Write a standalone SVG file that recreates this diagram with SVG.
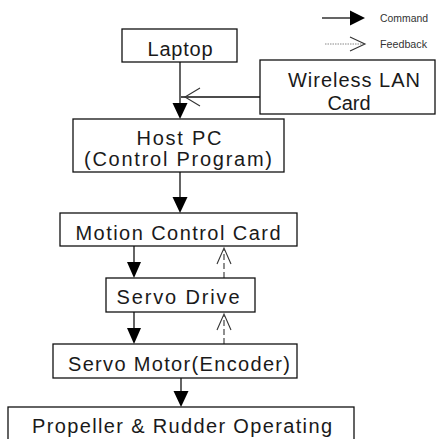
<svg xmlns="http://www.w3.org/2000/svg" width="437" height="439" viewBox="0 0 437 439" xml:space="preserve">
  <style>
    .box { fill: #ffffff; stroke: #111111; stroke-width: 1.3; }
    .lbl { font-family: "Liberation Sans", Arial, sans-serif; font-size: 20px; fill: #1a1a1a; text-anchor: middle; }
    .leg { font-family: "Liberation Sans", Arial, sans-serif; font-size: 10px; fill: #333333; }
    .cmd { stroke: #111111; stroke-width: 1.3; fill: none; }
    .fb { stroke: #333333; stroke-width: 1.1; fill: none; stroke-dasharray: 6 3; }
    .head { fill: #000000; stroke: none; }
    .open { fill: none; stroke: #333333; stroke-width: 1.1; }
  </style>
  <rect width="437" height="439" fill="#ffffff"/>

  <!-- legend -->
  <g id="legend">
    <line x1="322" y1="18" x2="351" y2="18" class="cmd"/>
    <polygon points="350,10.5 365,18 350,25.5" class="head"/>
    <text x="380" y="22" class="leg" textLength="48" lengthAdjust="spacingAndGlyphs">Command</text>
    <line x1="325" y1="44" x2="364" y2="44" stroke="#888888" stroke-width="1" stroke-dasharray="1.5 1"/>
    <polyline points="350,37 365,44 350,51" class="open"/>
    <text x="380" y="48" class="leg" textLength="47" lengthAdjust="spacingAndGlyphs">Feedback</text>
  </g>

  <!-- connectors -->
  <g id="connectors">
    <!-- Laptop to Host PC -->
    <line x1="180" y1="62" x2="180" y2="104" class="cmd"/>
    <polygon points="172.5,103 187.5,103 180,119" class="head"/>
    <!-- Wireless LAN Card feedback into the laptop link -->
    <line x1="181" y1="97" x2="260" y2="97" class="cmd" stroke-width="1.1"/>
    <polyline points="200,88 185,97 200,106" class="open" stroke="#111111"/>
    <!-- Host PC to Motion Control Card -->
    <line x1="180" y1="172" x2="180" y2="198" class="cmd"/>
    <polygon points="172.5,197 187.5,197 180,213" class="head"/>
    <!-- Motion Control Card to Servo Drive -->
    <line x1="134" y1="246" x2="134" y2="263" class="cmd"/>
    <polygon points="127,262 141,262 134,278" class="head"/>
    <!-- Servo Drive to Servo Motor -->
    <line x1="134" y1="312" x2="134" y2="329" class="cmd"/>
    <polygon points="127,328 141,328 134,344" class="head"/>
    <!-- Servo Motor to propeller and rudder -->
    <line x1="181" y1="378" x2="181" y2="392" class="cmd"/>
    <polygon points="173.5,391 188.5,391 181,407" class="head"/>
    <!-- encoder feedback -->
    <line x1="224" y1="278" x2="224" y2="250" class="fb"/>
    <polyline points="217,264 224,248 231,264" class="open"/>
    <line x1="224" y1="344" x2="224" y2="316" class="fb"/>
    <polyline points="217,330 224,314 231,330" class="open"/>
  </g>

  <g id="laptop">
    <rect x="122" y="29" width="115" height="33" class="box"/>
    <text x="180" y="56" class="lbl" textLength="65" lengthAdjust="spacing">Laptop</text>
  </g>

  <g id="wireless-lan-card">
    <rect x="260" y="60" width="175" height="54" class="box"/>
    <text x="354" y="87" class="lbl" textLength="132" lengthAdjust="spacing">Wireless  LAN</text>
    <text x="349" y="110" class="lbl" textLength="43" lengthAdjust="spacing">Card</text>
  </g>

  <g id="host-pc">
    <rect x="73" y="119" width="211" height="53" class="box"/>
    <text x="179" y="145" class="lbl" textLength="85" lengthAdjust="spacing">Host  PC</text>
    <text x="178" y="166" class="lbl" textLength="188" lengthAdjust="spacing">(Control  Program)</text>
  </g>

  <g id="motion-control-card">
    <rect x="60" y="213" width="237" height="33" class="box"/>
    <text x="178" y="240" class="lbl" textLength="205" lengthAdjust="spacing">Motion  Control  Card</text>
  </g>

  <g id="servo-drive">
    <rect x="106" y="278" width="149" height="34" class="box"/>
    <text x="178" y="304" class="lbl" textLength="123" lengthAdjust="spacing">Servo  Drive</text>
  </g>

  <g id="servo-motor">
    <rect x="53" y="344" width="244" height="34" class="box"/>
    <text x="179" y="371" class="lbl" textLength="222" lengthAdjust="spacing">Servo  Motor(Encoder)</text>
  </g>

  <g id="propeller-rudder">
    <rect x="8" y="407" width="346" height="40" class="box"/>
    <text x="182" y="433" class="lbl" textLength="300" lengthAdjust="spacing">Propeller  &amp;  Rudder  Operating</text>
  </g>
</svg>
